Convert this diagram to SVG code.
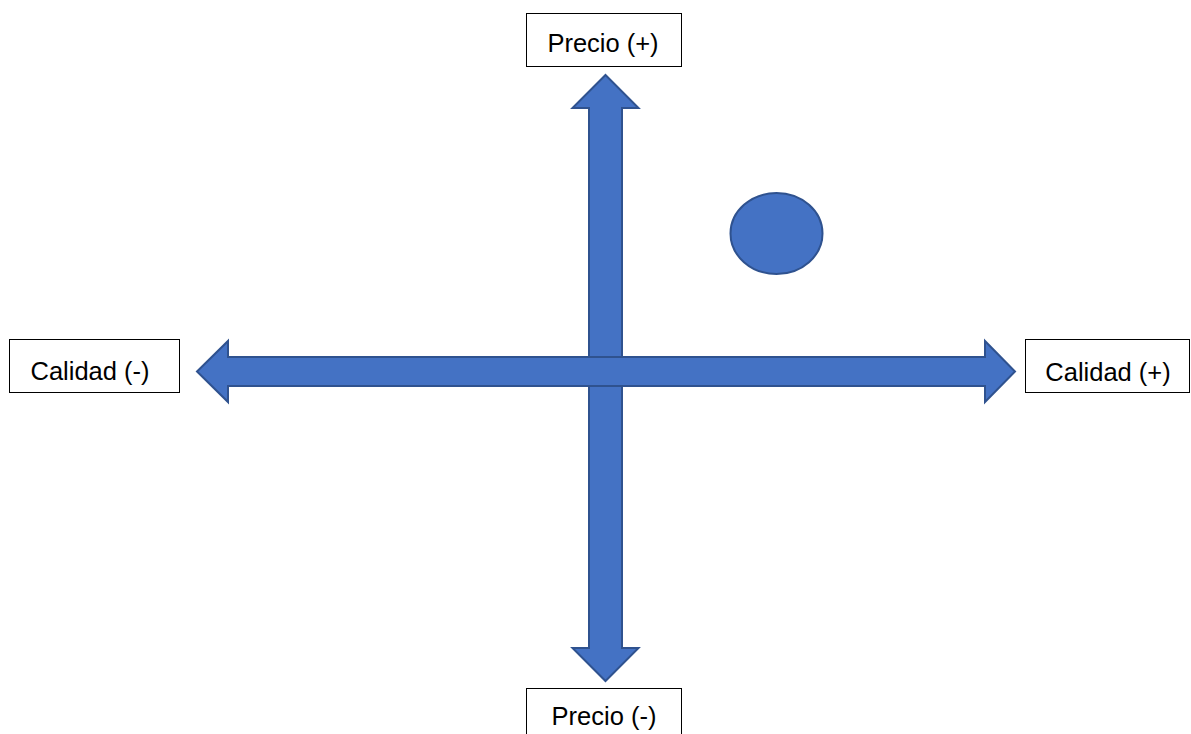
<svg xmlns="http://www.w3.org/2000/svg" width="1191" height="734" viewBox="0 0 1191 734">
<style>
.box{fill:#fff;stroke:#000;stroke-width:1}
.lbl{font-family:"Liberation Sans",Arial,sans-serif;font-size:25.5px;fill:#000}
.arr{fill:#4472C4;stroke:#2F528F;stroke-width:2;stroke-linejoin:miter}
</style>
<rect width="1191" height="734" fill="#fff"/>
<g id="connectors">
<path class="arr" d="M605.5,75 L638.5,108 L622,108 L622,648 L638.5,648 L605.5,681 L572.5,648 L589,648 L589,108 L572.5,108 Z"/>
<path class="arr" d="M197,371.5 L228,341 L228,357 L985,357 L985,341 L1015,371.5 L985,402 L985,386 L228,386 L228,402 Z"/>
</g>
<g id="precio-mas"><rect class="box" x="526.5" y="13.5" width="155" height="53"/><text class="lbl" x="603" y="52" text-anchor="middle">Precio (+)</text></g>
<g id="precio-menos"><rect class="box" x="526.5" y="688.5" width="155" height="60"/><text class="lbl" x="604" y="725" text-anchor="middle">Precio (-)</text></g>
<g id="calidad-menos"><rect class="box" x="9.5" y="339.5" width="170" height="53"/><text class="lbl" x="90" y="380" text-anchor="middle">Calidad (-)</text></g>
<g id="calidad-mas"><rect class="box" x="1025.5" y="339.5" width="164" height="53"/><text class="lbl" x="1108" y="381" text-anchor="middle">Calidad (+)</text></g>
<g id="punto"><ellipse class="arr" cx="776.5" cy="233.5" rx="46" ry="40.5"/></g>
</svg>
